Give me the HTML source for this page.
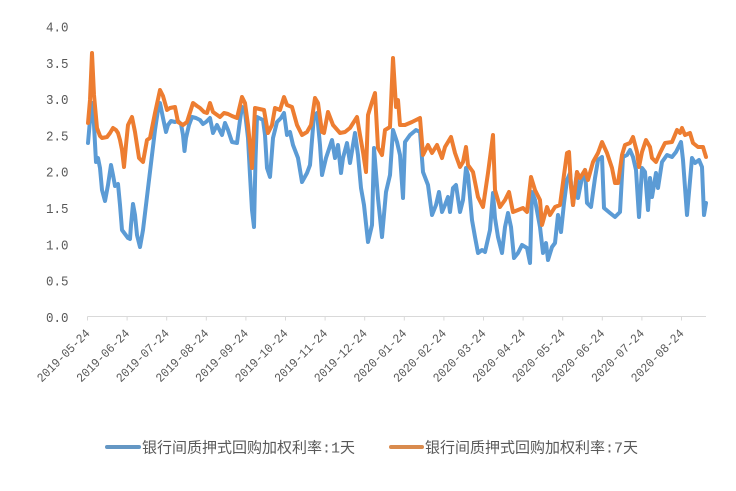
<!DOCTYPE html>
<html>
<head>
<meta charset="utf-8">
<style>
  html,body{margin:0;padding:0;background:#fff;}
  svg{display:block;}
  .yl{font-family:"Liberation Mono","DejaVu Sans Mono",monospace;font-size:14px;fill:#595959;}
  .xl{font-family:"Liberation Mono","DejaVu Sans Mono",monospace;font-size:12.5px;fill:#595959;}
  .lg{font-family:"Liberation Mono","Noto Sans CJK SC",sans-serif;font-size:15px;fill:#595959;}
</style>
</head>
<body>
<svg width="736" height="491" viewBox="0 0 736 491" xmlns="http://www.w3.org/2000/svg">
  <rect width="736" height="491" fill="#fff"/>

  <!-- Y labels -->
  <g class="yl" text-anchor="end">
    <text x="68.5" y="31.5" textLength="22.5" lengthAdjust="spacingAndGlyphs">4.0</text>
    <text x="68.5" y="67.8" textLength="22.5" lengthAdjust="spacingAndGlyphs">3.5</text>
    <text x="68.5" y="104.1" textLength="22.5" lengthAdjust="spacingAndGlyphs">3.0</text>
    <text x="68.5" y="140.4" textLength="22.5" lengthAdjust="spacingAndGlyphs">2.5</text>
    <text x="68.5" y="176.7" textLength="22.5" lengthAdjust="spacingAndGlyphs">2.0</text>
    <text x="68.5" y="213.0" textLength="22.5" lengthAdjust="spacingAndGlyphs">1.5</text>
    <text x="68.5" y="249.3" textLength="22.5" lengthAdjust="spacingAndGlyphs">1.0</text>
    <text x="68.5" y="285.6" textLength="22.5" lengthAdjust="spacingAndGlyphs">0.5</text>
    <text x="68.5" y="321.9" textLength="22.5" lengthAdjust="spacingAndGlyphs">0.0</text>
  </g>

  <!-- X axis -->
  <line x1="87.5" y1="316.5" x2="706" y2="316.5" stroke="#d9d9d9" stroke-width="1"/>
  <g stroke="#d9d9d9" stroke-width="1">
    <line x1="87.5" y1="316.5" x2="87.5" y2="320.5"/>
    <line x1="127.1" y1="316.5" x2="127.1" y2="320.5"/>
    <line x1="166.7" y1="316.5" x2="166.7" y2="320.5"/>
    <line x1="206.3" y1="316.5" x2="206.3" y2="320.5"/>
    <line x1="245.9" y1="316.5" x2="245.9" y2="320.5"/>
    <line x1="285.5" y1="316.5" x2="285.5" y2="320.5"/>
    <line x1="325.1" y1="316.5" x2="325.1" y2="320.5"/>
    <line x1="364.7" y1="316.5" x2="364.7" y2="320.5"/>
    <line x1="404.3" y1="316.5" x2="404.3" y2="320.5"/>
    <line x1="443.9" y1="316.5" x2="443.9" y2="320.5"/>
    <line x1="483.5" y1="316.5" x2="483.5" y2="320.5"/>
    <line x1="523.1" y1="316.5" x2="523.1" y2="320.5"/>
    <line x1="562.7" y1="316.5" x2="562.7" y2="320.5"/>
    <line x1="602.3" y1="316.5" x2="602.3" y2="320.5"/>
    <line x1="641.9" y1="316.5" x2="641.9" y2="320.5"/>
    <line x1="681.5" y1="316.5" x2="681.5" y2="320.5"/>
  </g>

  <!-- X labels -->
  <g class="xl" text-anchor="end">
    <text transform="translate(90.5,334) rotate(-45)" textLength="69" lengthAdjust="spacingAndGlyphs">2019-05-24</text>
    <text transform="translate(130.1,334) rotate(-45)" textLength="69" lengthAdjust="spacingAndGlyphs">2019-06-24</text>
    <text transform="translate(169.7,334) rotate(-45)" textLength="69" lengthAdjust="spacingAndGlyphs">2019-07-24</text>
    <text transform="translate(209.3,334) rotate(-45)" textLength="69" lengthAdjust="spacingAndGlyphs">2019-08-24</text>
    <text transform="translate(248.9,334) rotate(-45)" textLength="69" lengthAdjust="spacingAndGlyphs">2019-09-24</text>
    <text transform="translate(288.5,334) rotate(-45)" textLength="69" lengthAdjust="spacingAndGlyphs">2019-10-24</text>
    <text transform="translate(328.1,334) rotate(-45)" textLength="69" lengthAdjust="spacingAndGlyphs">2019-11-24</text>
    <text transform="translate(367.7,334) rotate(-45)" textLength="69" lengthAdjust="spacingAndGlyphs">2019-12-24</text>
    <text transform="translate(407.3,334) rotate(-45)" textLength="69" lengthAdjust="spacingAndGlyphs">2020-01-24</text>
    <text transform="translate(446.9,334) rotate(-45)" textLength="69" lengthAdjust="spacingAndGlyphs">2020-02-24</text>
    <text transform="translate(486.5,334) rotate(-45)" textLength="69" lengthAdjust="spacingAndGlyphs">2020-03-24</text>
    <text transform="translate(526.1,334) rotate(-45)" textLength="69" lengthAdjust="spacingAndGlyphs">2020-04-24</text>
    <text transform="translate(565.7,334) rotate(-45)" textLength="69" lengthAdjust="spacingAndGlyphs">2020-05-24</text>
    <text transform="translate(605.3,334) rotate(-45)" textLength="69" lengthAdjust="spacingAndGlyphs">2020-06-24</text>
    <text transform="translate(644.9,334) rotate(-45)" textLength="69" lengthAdjust="spacingAndGlyphs">2020-07-24</text>
    <text transform="translate(684.5,334) rotate(-45)" textLength="69" lengthAdjust="spacingAndGlyphs">2020-08-24</text>
  </g>

  <!-- Blue series: 1 day -->
  <polyline fill="none" stroke="#5B9BD5" stroke-width="4" stroke-linejoin="round" stroke-linecap="round" points="
88,143 90,120 92,103 94,125 96,162 98,158 100,168 102,190 105,201 108,185 111,165 113,175 115,186 118,184 120,205 122,230 125,234 128,238 130,239 131,225 133,204 135,215 137,235 140,247 143,230 146,205 149,180 152,155 155,130 158,110 160,103 163,118 166,132 168,125 171,121 175,122 178,121 181,124 183,135 184.5,151 186,138 189,125 192,117 196,118 200,120 203,124 206,122 210,118 213,133 217,125 222,135 225,123 228,130 232,142 237,143 240,120 242,107 245,112 248,138 250,175 252,210 254,227 255.5,160 257,117 263,120 265,135 267,168 270,177 273,138 277,122 281,118 284,113 287,135 290,132 293,145 298,158 302,182 307,173 310,165 314,115 317,113 320,145 322,175 326,158 328,152 332,140 335,158 338,145 341,173 343,158 347,143 350,163 355,133 358,155 361,188 364,205 368,242 372,225 374,148 378,198 382,237 386,192 390,175 393,130 397,142 400,155 403,198 405,142 410,135 416,130 420,132 423,172 428,185 432,215 436,205 439,192 442,212 445,205 448,197 450,212 453,188 456,185 460,212 463,200 466,168 468,175 472,220 475,237 478,253 482,250 485,252 490,230 493,193 495,218 498,237 502,253 505,227 508,213 511,227 514,258 518,253 522,245 527,248 530,263 532,192 535,200 540,227 543,253 546,243 548,260 552,247 555,243 558,215 561,232 564,203 567,180 570,173 573,205 577,172 578,198 582,178 585,170 587,203 591,207 595,178 598,160 602,157 604,208 610,213 615,217 620,212 623,157 627,155 630,150 633,157 636,170 639,217 642,168 645,172 648,210 650,178 652,197 656,173 658,188 662,162 667,155 672,157 676,152 681,142 683,160 687,215 692,158 695,163 699,160 702,167 704,215 706,203"/>

  <!-- Orange series: 7 day -->
  <polyline fill="none" stroke="#ED7D31" stroke-width="4" stroke-linejoin="round" stroke-linecap="round" points="
88,123 90,100 92,53 94,95 97,128 100,136 102,138 107,137 110,133 113,128 116,130 118,133 120,140 122,150 124,167 126,145 128,125 132,117 135,132 139,158 143,162 147,140 150,138 155,113 160,90 163,96 165,103 167,110 170,108 175,107 178,122 183,125 187,122 193,103 197,106 200,108 204,112 207,113 210,103 213,112 220,117 224,113 228,114 232,116 237,118 242,97 245,103 248,125 250,145 252,168 255,108 264,110 268,133 272,125 275,108 280,110 284,97 287,105 292,107 297,125 302,135 307,132 311,125 315,98 318,103 322,132 324,133 328,112 333,125 340,133 345,132 350,128 357,117 360,135 363,152 366,172 368,115 372,102 375,93 378,148 382,155 385,130 390,127 393,58 396,107 398,100 400,125 405,125 412,122 420,118 423,155 428,145 432,153 437,145 442,158 445,147 451,137 455,153 460,167 463,162 466,147 468,165 473,172 478,197 483,207 488,173 493,135 495,190 500,207 505,200 509,192 513,212 518,210 523,208 527,212 531,177 535,190 540,200 542,225 547,207 550,215 555,207 560,205 564,175 567,153 569,152 571,187 573,205 577,172 580,178 585,170 588,180 593,162 598,153 602,142 607,153 612,168 615,183 618,183 622,155 625,145 630,143 633,137 637,152 639,167 642,152 646,140 650,147 652,158 656,162 660,153 665,143 672,142 677,130 680,133 682,128 685,135 690,133 693,143 698,147 703,147 706,157"/>

  <!-- Legend -->
  <line x1="107" y1="447" x2="139" y2="447" stroke="#6497C4" stroke-width="4" stroke-linecap="round"/>
  <text class="lg" x="142" y="452.5">银行间质押式回购加权利率:1天</text>
  <line x1="391" y1="447" x2="422" y2="447" stroke="#D98B4E" stroke-width="4" stroke-linecap="round"/>
  <text class="lg" x="425" y="452.5">银行间质押式回购加权利率:7天</text>
</svg>
</body>
</html>
